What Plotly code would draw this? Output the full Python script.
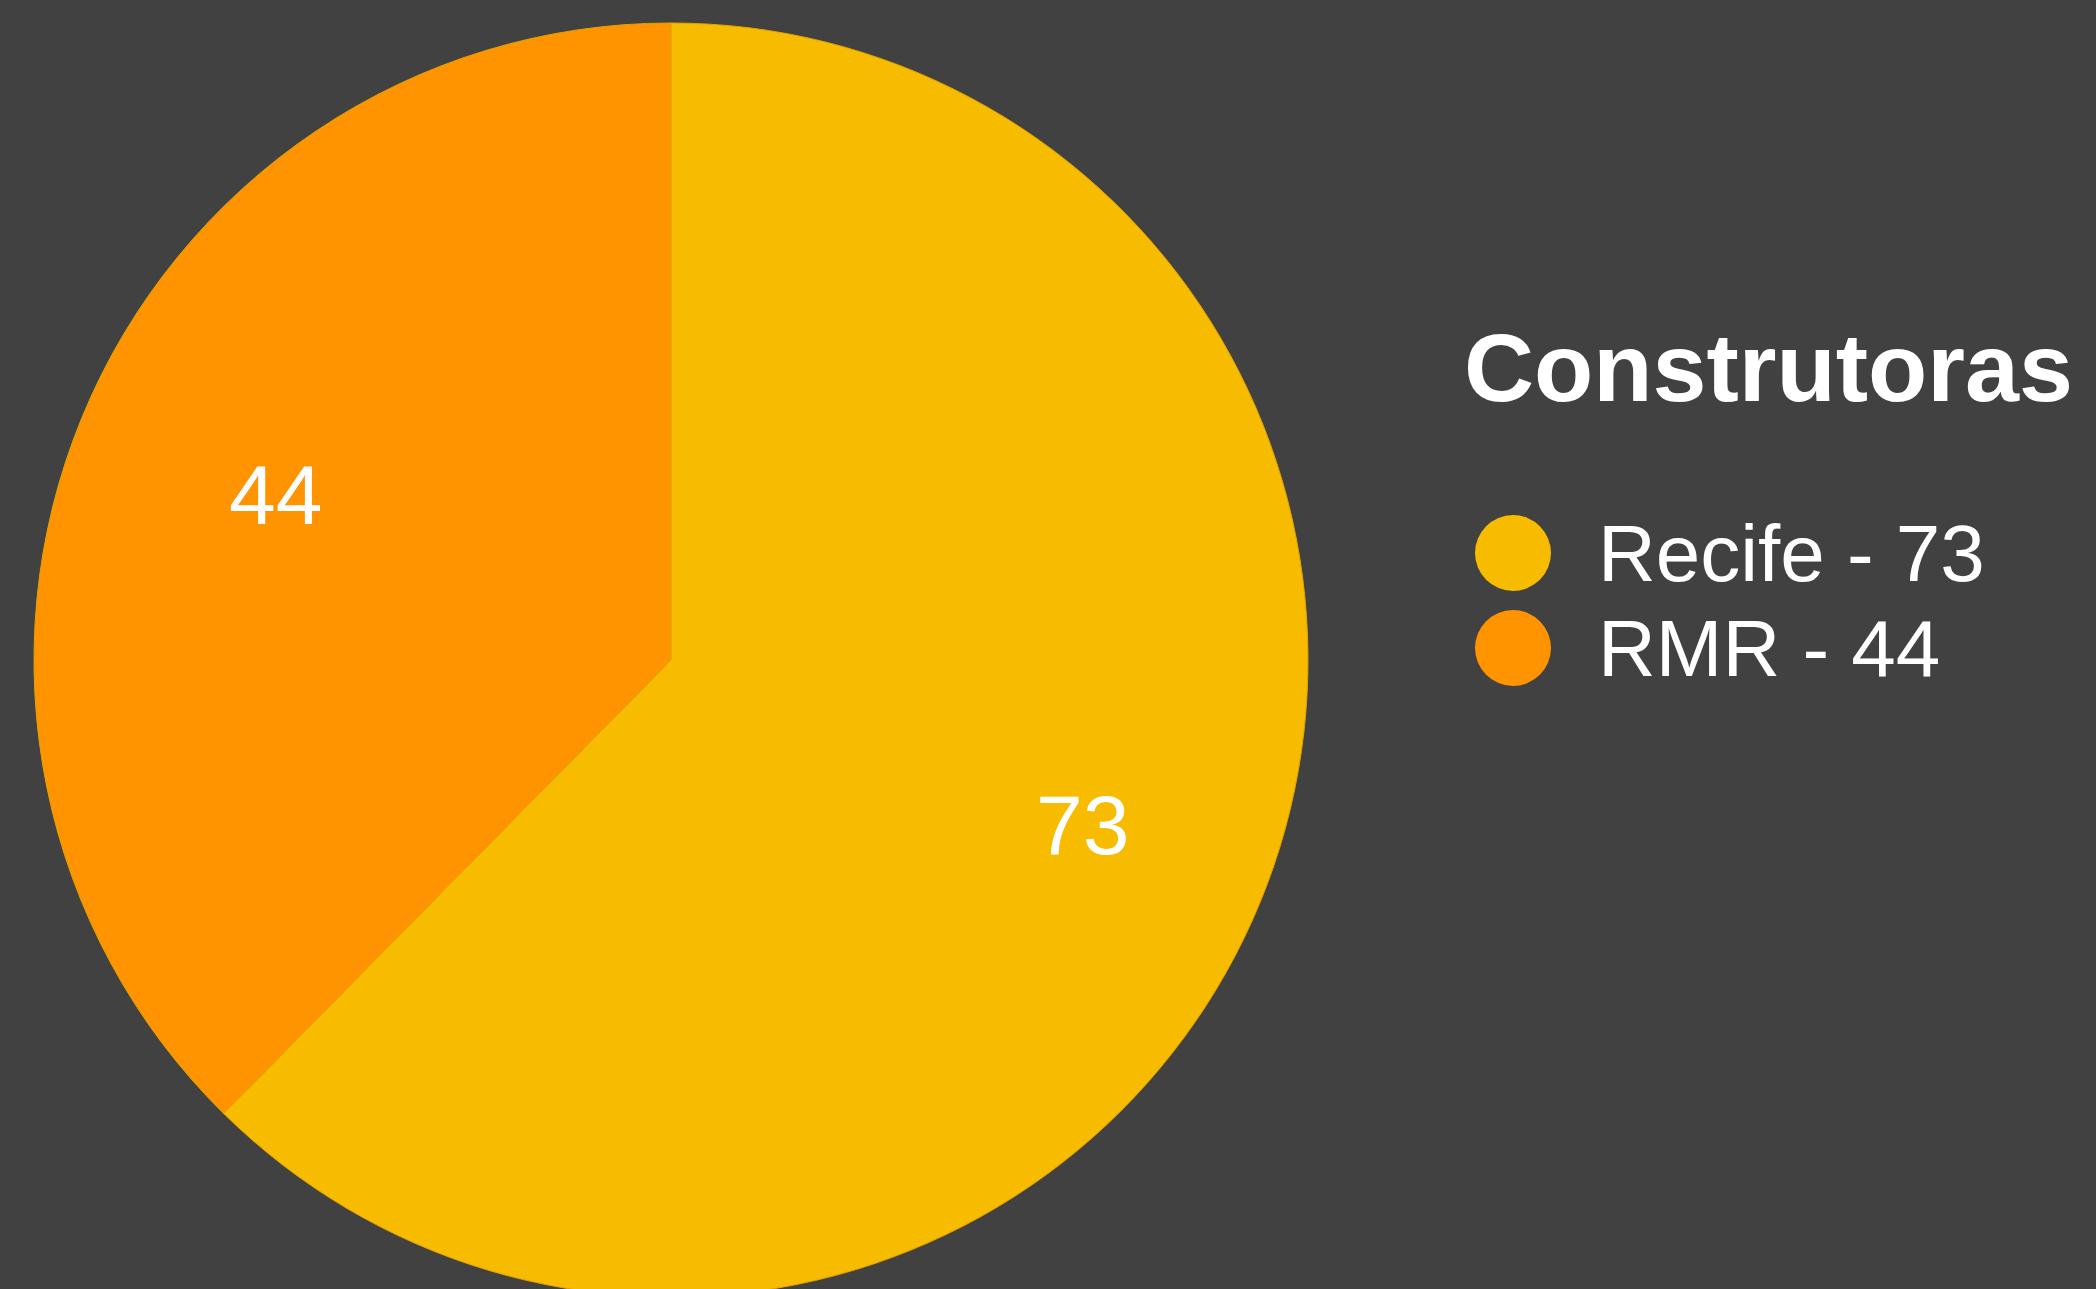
import math
import plotly.graph_objects as go

# Data
categories = ["Recife", "RMR"]
values = [73, 44]
colors = ["#F7BB00", "#FF9400"]
legend_title = "Construtoras"

W, H = 2096, 1297
BG = "#414141"
FONT = "Liberation Sans, Arial, Helvetica, sans-serif"

def px_x(x):
    return x / W

def px_y(y):
    return 1 - y / H

# pie geometry (pixels)
PIE_L, PIE_R, PIE_T = 34, 1308, 23
R = (PIE_R - PIE_L) / 2
CX, CY = (PIE_L + PIE_R) / 2, PIE_T + R

fig = go.Figure()

fig.add_trace(go.Pie(
    labels=categories,
    values=values,
    marker=dict(colors=colors, line=dict(color="#E3A300", width=1)),
    sort=False,
    direction="clockwise",
    rotation=0,
    textinfo="none",
    showlegend=False,
    domain=dict(x=[px_x(PIE_L), px_x(PIE_R)], y=[0, px_y(PIE_T)]),
    hoverinfo="label+value",
))

annotations = []

# slice value labels, placed along each slice's mid-angle
total = sum(values)
cum = 0
for val in values:
    theta = 2 * math.pi * (cum + val / 2) / total
    cum += val
    k = 0.684
    ax = CX + k * R * math.sin(theta)
    ay = CY - k * R * math.cos(theta)
    annotations.append(dict(
        text=str(val), x=px_x(ax), y=px_y(ay), xref="paper", yref="paper",
        xanchor="center", yanchor="middle", xshift=8, yshift=0, showarrow=False,
        font=dict(family=FONT, size=84, color="white"),
    ))

# Custom legend (large circular symbols)
leg_x = px_x(1513)
leg_ys = [px_y(553), px_y(648)]
fig.add_trace(go.Scatter(
    x=[leg_x] * len(categories),
    y=leg_ys,
    mode="markers",
    marker=dict(size=76, color=colors, symbol="circle", line=dict(width=0)),
    showlegend=False,
    hoverinfo="skip",
    xaxis="x", yaxis="y",
))

annotations.append(dict(
    text=f"<b>{legend_title}</b>", x=px_x(1462), y=px_y(368),
    xref="paper", yref="paper", xanchor="left", yanchor="middle",
    showarrow=False, font=dict(family=FONT, size=97, color="white"),
))
for cat, val, yy in zip(categories, values, leg_ys):
    annotations.append(dict(
        text=f"{cat} - {val}", x=px_x(1596), y=yy,
        xref="paper", yref="paper", xanchor="left", yanchor="middle",
        showarrow=False, font=dict(family=FONT, size=80, color="white"),
    ))

fig.update_layout(
    width=W, height=H,
    margin=dict(l=0, r=0, t=0, b=0),
    paper_bgcolor=BG, plot_bgcolor=BG,
    showlegend=False,
    xaxis=dict(range=[0, 1], domain=[0, 1], visible=False, fixedrange=True),
    yaxis=dict(range=[0, 1], domain=[0, 1], visible=False, fixedrange=True),
    annotations=annotations,
)

fig.write_html(
    "out.html",
    config={"displayModeBar": False},
    post_script="document.body.style.margin='0';document.body.style.overflow='hidden';document.body.style.background='#414141';",
)
